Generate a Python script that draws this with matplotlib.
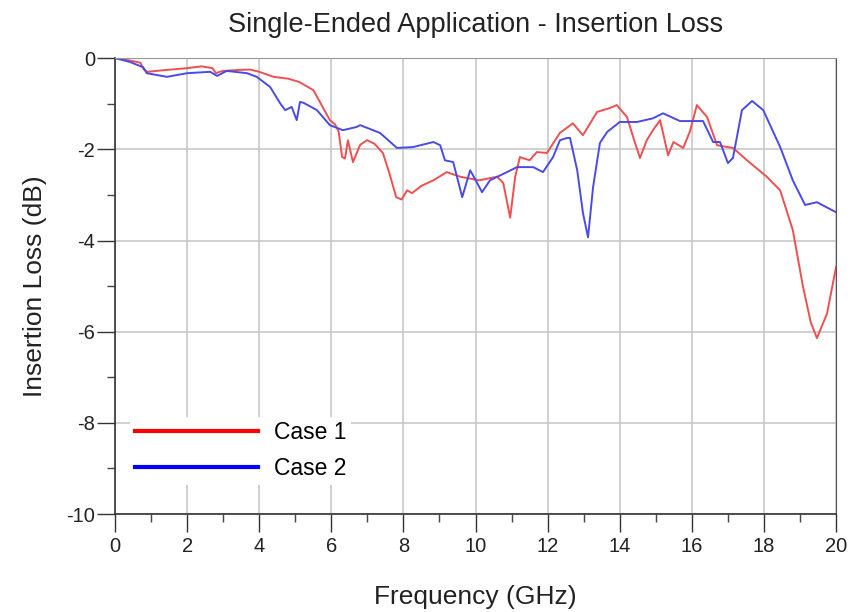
import numpy as np
import matplotlib.pyplot as plt

plt.rcParams['font.family'] = ['Liberation Sans', 'DejaVu Sans']
plt.rcParams['axes.unicode_minus'] = False

# Case 1 (red)
freq1 = [0, 0.4, 0.7, 0.8, 0.9, 1.4, 2.0, 2.4, 2.7, 2.8, 2.9, 3.0, 3.4, 3.75, 4.0, 4.4,
         4.8, 5.1, 5.5, 5.96, 6.1, 6.2, 6.3, 6.38, 6.46, 6.6, 6.8, 6.99, 7.2, 7.43, 7.6,
         7.8, 7.95, 8.1, 8.24, 8.5, 8.83, 9.2, 9.57, 10.1, 10.6, 10.77, 10.96, 11.1,
         11.23, 11.5, 11.7, 11.98, 12.34, 12.7, 12.98, 13.37, 13.7, 13.92, 14.2, 14.4,
         14.56, 14.75, 14.92, 15.12, 15.34, 15.49, 15.76, 15.95, 16.14, 16.42, 16.7,
         17.14, 17.53, 18.09, 18.45, 18.8, 19.08, 19.3, 19.47, 19.75, 20.0]
loss1 = [0, -0.05, -0.1, -0.25, -0.3, -0.26, -0.22, -0.18, -0.22, -0.33, -0.3, -0.28,
         -0.26, -0.25, -0.3, -0.41, -0.45, -0.52, -0.7, -1.36, -1.45, -1.6, -2.17, -2.2,
         -1.8, -2.28, -1.9, -1.8, -1.88, -2.08, -2.5, -3.05, -3.1, -2.9, -2.96, -2.8,
         -2.68, -2.5, -2.6, -2.68, -2.6, -2.74, -3.5, -2.6, -2.17, -2.24, -2.06, -2.08,
         -1.64, -1.43, -1.69, -1.18, -1.1, -1.03, -1.29, -1.8, -2.19, -1.8, -1.58,
         -1.36, -2.13, -1.84, -1.97, -1.6, -1.03, -1.29, -1.91, -1.97, -2.24, -2.61,
         -2.9, -3.77, -5.0, -5.8, -6.14, -5.6, -4.58]

# Case 2 (blue)
freq2 = [0, 0.4, 0.78, 0.88, 1.44, 2.0, 2.64, 2.83, 3.1, 3.66, 3.93, 4.3, 4.58, 4.72,
         4.9, 5.04, 5.13, 5.23, 5.6, 5.96, 6.32, 6.7, 6.8, 7.35, 7.82, 8.27, 8.83, 9.02,
         9.15, 9.38, 9.63, 9.85, 9.93, 10.18, 10.4, 10.87, 11.15, 11.6, 11.87, 12.15,
         12.34, 12.54, 12.62, 12.82, 12.98, 13.12, 13.26, 13.45, 13.65, 14.0, 14.48,
         14.92, 15.2, 15.67, 16.31, 16.59, 16.78, 17.0, 17.14, 17.39, 17.67, 17.98,
         18.45, 18.8, 19.14, 19.47, 20.0]
loss2 = [0, -0.08, -0.2, -0.33, -0.41, -0.33, -0.3, -0.39, -0.28, -0.33, -0.41, -0.63,
         -0.99, -1.14, -1.07, -1.36, -0.96, -0.98, -1.14, -1.47, -1.58, -1.51, -1.47,
         -1.64, -1.97, -1.95, -1.84, -1.91, -2.24, -2.28, -3.05, -2.46, -2.57, -2.94,
         -2.68, -2.5, -2.39, -2.39, -2.5, -2.17, -1.8, -1.75, -1.75, -2.46, -3.4,
         -3.93, -2.83, -1.86, -1.62, -1.4, -1.4, -1.32, -1.21, -1.38, -1.38, -1.84,
         -1.84, -2.3, -2.19, -1.14, -0.94, -1.14, -1.95, -2.68, -3.22, -3.16, -3.38]

xticks = np.arange(0, 21, 2)
yticks = np.arange(-10, 1, 2)

fig = plt.figure(figsize=(8.54, 6.12), dpi=100)
ax = fig.add_axes([0.1347, 0.160, 0.8443, 0.745])

ax.plot(freq1, loss1, color='#ee5050', lw=1.4, label='Case 1')
ax.plot(freq2, loss2, color='#4a4ae8', lw=1.4, label='Case 2')

ax.set_xlim(0, 20)
ax.set_ylim(-10, 0)
ax.set_xticks(xticks)
ax.set_yticks(yticks)
ax.set_xticks(np.arange(1, 20, 2), minor=True)
ax.set_yticks(np.arange(-9, 0, 2), minor=True)
ax.grid(True, which='major', color='#c8c8c8', lw=1.2)
ax.tick_params(which='major', length=13, width=1, labelsize=14.5, colors='#333333',
               labelcolor='#222222')
ax.tick_params(which='minor', length=6, width=1, colors='#444444')
ax.tick_params(axis='x', pad=3.5)
ax.tick_params(axis='y', pad=1.5)
for side in ['left', 'bottom']:
    ax.spines[side].set_color('#333333')
    ax.spines[side].set_linewidth(1.2)
ax.spines['top'].set_color('#999999')
ax.spines['right'].set_color('#555555')

ax.set_title('Single-Ended Application - Insertion Loss', fontsize=19.5, pad=19, color='#222222')
ax.set_xlabel('Frequency (GHz)', fontsize=19, labelpad=21, color='#222222')
ax.set_ylabel('Insertion Loss (dB)', fontsize=19, labelpad=14, color='#222222')

leg = ax.legend(loc='upper left', bbox_to_anchor=(0.0208, 0.2135), fontsize=16.5,
                handlelength=5.4, labelspacing=0.55, frameon=True, fancybox=False,
                borderpad=0.2, borderaxespad=0, handletextpad=0.7)
leg.get_frame().set_edgecolor('none')
leg.get_frame().set_facecolor('white')
leg.get_frame().set_alpha(1)
for line in leg.get_lines():
    line.set_linewidth(3)
    line.set_color({'Case 1': '#ff0000', 'Case 2': '#0000ff'}[line.get_label()])

fig.savefig('out.png', dpi=100)
